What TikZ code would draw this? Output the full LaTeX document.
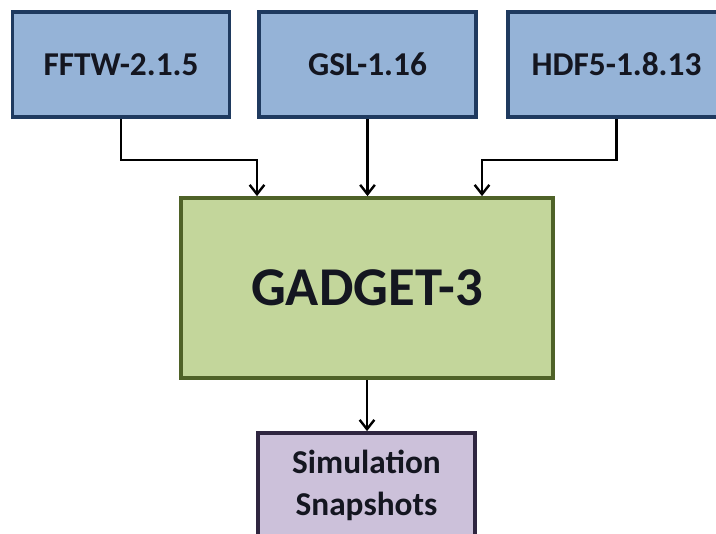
\documentclass[tikz,border=0pt]{standalone}
\usepackage{fontspec}
\setmainfont{Carlito}
\usetikzlibrary{arrows.meta,calc}
\definecolor{bluefill}{HTML}{95B3D7}
\definecolor{blueline}{HTML}{1F3A5F}
\definecolor{greenfill}{HTML}{C3D69B}
\definecolor{greenline}{HTML}{4F6228}
\definecolor{purplefill}{HTML}{CCC1DA}
\definecolor{purpleline}{HTML}{2F2640}
\definecolor{txt}{HTML}{141620}
\tikzset{
  libbox/.style={draw=blueline, fill=bluefill, line width=2.8pt, inner sep=0pt,
    minimum width=217*0.75pt, minimum height=105*0.75pt, text=txt,
    font=\fontsize{25}{30}\selectfont\bfseries},
  mainbox/.style={draw=greenline, fill=greenfill, line width=2.8pt, inner sep=0pt,
    minimum width=372*0.75pt, minimum height=180*0.75pt, text=txt,
    font=\fontsize{41}{50}\selectfont\bfseries},
  outbox/.style={draw=purpleline, fill=purplefill, line width=2.8pt, inner sep=0pt,
    minimum width=217*0.75pt, minimum height=105*0.75pt, text=txt, align=center,
    font=\fontsize{25}{31}\selectfont\bfseries},
  arr/.style={line width=1.8pt, -{Straight Barb[length=7pt,width=11pt,line width=1.8pt]}}
}
\begin{document}
\begin{tikzpicture}[x=0.75pt,y=-0.75pt]
\clip (0,0) rectangle (716,534);
\fill[white] (0,0) rectangle (716,534);
\node[libbox] (fftw) at (121,64.5) {FFTW-2.1.5};
\node[libbox] (gsl) at (367.5,64.5) {GSL-1.16};
\node[libbox] (hdf) at (616.5,64.5) {HDF5-1.8.13};
\node[mainbox] (gadget) at (367,288) {GADGET-3};
\node[outbox] (sim) at (366.5,485.5) {Simulation\\Snapshots};
\draw[arr] (fftw.south) -- ++(0,41) -| ($(gadget.north)+(-110,0)$);
\draw[arr] (gsl.south) -- (gsl.south |- gadget.north);
\draw[arr] (hdf.south) -- ++(0,41) -| ($(gadget.north)+(115,0)$);
\draw[arr] (gadget.south) -- (gadget.south |- sim.north);
\end{tikzpicture}
\end{document}
